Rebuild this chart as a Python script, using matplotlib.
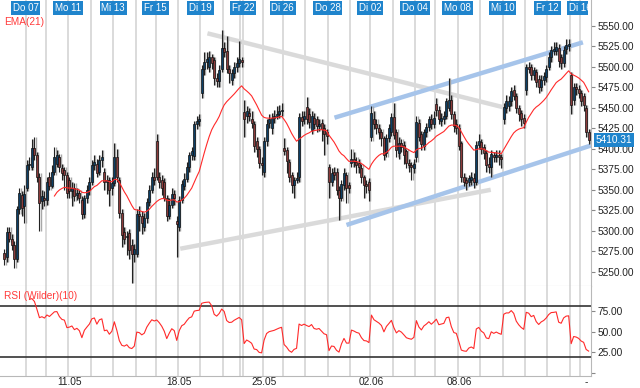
import numpy as np
import pandas as pd
import matplotlib
matplotlib.use("Agg")
import matplotlib.pyplot as plt
import matplotlib.transforms as mtransforms

plt.rcParams['font.family'] = ['Liberation Sans', 'DejaVu Sans']

# ==============================
# Daten (Stundenkerzen, Mai/Juni)
# ==============================
day_names = ["Mi 06", "Do 07", "Fr 08", "Mo 11", "Di 12", "Mi 13", "Do 14", "Fr 15",
             "Mo 18", "Di 19", "Mi 20", "Do 21", "Fr 22", "Mo 25", "Di 26", "Mi 27",
             "Do 28", "Fr 29", "Di 02", "Mi 03", "Do 04", "Fr 05", "Mo 08", "Di 09",
             "Mi 10", "Do 11", "Fr 12", "Mo 15", "Di 16"]
day_bars = [9, 8, 9, 9, 9, 9, 8, 9, 9, 9, 7, 1, 8, 8, 9, 9, 9, 8, 9, 9, 8, 9, 9, 9, 9, 9, 9, 4, 4]

top_labels = ["Do 07", "Mo 11", "Mi 13", "Fr 15", "Di 19", "Fr 22", "Di 26", "Do 28",
              "Di 02", "Do 04", "Mo 08", "Mi 10", "Fr 12", "Di 16"]
bottom_days = ["Mo 11", "Mo 18", "Mo 25", "Di 02", "Mo 08"]
bottom_labels = ["11.05", "18.05", "25.05", "02.06", "08.06"]

opens = [
    5273, 5268, 5299, 5290, 5282, 5265, 5326, 5344, 5330,
    5352, 5380, 5378, 5401, 5392, 5366, 5336, 5340,
    5337, 5365, 5355, 5372, 5382, 5390, 5376, 5374, 5368,
    5362, 5348, 5352, 5344, 5346, 5338, 5320, 5340, 5350,
    5360, 5380, 5382, 5372, 5386, 5372, 5360, 5362, 5352,
    5358, 5390, 5362, 5322, 5298, 5292, 5297, 5282, 5272,
    5272, 5320, 5318, 5305, 5315, 5335, 5350, 5365,
    5409, 5366, 5362, 5360, 5340, 5318, 5332, 5345, 5312,
    5305, 5338, 5355, 5363, 5378, 5392, 5391, 5430, 5434,
    5468, 5497, 5506, 5500, 5512, 5508, 5487, 5483, 5497,
    5523, 5520, 5497, 5484, 5493, 5500, 5505,
    5508,
    5445, 5440, 5444, 5436, 5430, 5410, 5400, 5383,
    5372, 5410, 5432, 5425, 5438, 5440, 5443, 5446,
    5401, 5398, 5384, 5368, 5356, 5362, 5366, 5439, 5436,
    5451, 5443, 5423, 5438, 5436, 5428, 5432, 5426, 5420,
    5378, 5360, 5372, 5372, 5350, 5340, 5356, 5368, 5356,
    5383, 5387, 5384, 5383, 5377, 5365, 5357, 5360,
    5415, 5437, 5430, 5425, 5420, 5413, 5395, 5413, 5421,
    5439, 5421, 5395, 5407, 5405, 5397, 5383, 5380, 5376,
    5390, 5431, 5418, 5403, 5420, 5427, 5436, 5430,
    5455, 5448, 5434, 5436, 5440, 5450, 5460, 5442, 5430,
    5426, 5407, 5365, 5362, 5360, 5362, 5364, 5360, 5405,
    5408, 5402, 5395, 5382, 5378, 5392, 5390, 5393, 5390,
    5436, 5450, 5452, 5458, 5472, 5464, 5450, 5444, 5438,
    5472, 5500, 5500, 5490, 5494, 5485, 5476, 5484, 5488,
    5500, 5512, 5520, 5520, 5523, 5512, 5505, 5522, 5525,
    5490, 5460, 5476, 5473,
    5468, 5465, 5450, 5420,
]
highs = [
    5278, 5305, 5304, 5296, 5288, 5330, 5352, 5348, 5356,
    5386, 5390, 5412, 5414, 5396, 5370, 5350, 5348,
    5366, 5372, 5380, 5402, 5398, 5394, 5382, 5378, 5372,
    5366, 5360, 5358, 5352, 5350, 5342, 5344, 5356, 5366,
    5386, 5392, 5388, 5392, 5398, 5376, 5368, 5366, 5366,
    5407, 5400, 5366, 5326, 5304, 5300, 5302, 5290, 5284,
    5326, 5330, 5324, 5322, 5340, 5356, 5372, 5376,
    5418, 5372, 5368, 5364, 5344, 5340, 5352, 5350, 5318,
    5342, 5362, 5370, 5384, 5396, 5402, 5434, 5440, 5442,
    5502, 5518, 5518, 5520, 5516, 5512, 5492, 5502, 5545,
    5530, 5538, 5502, 5498, 5506, 5512, 5532,
    5512,
    5460, 5452, 5450, 5446, 5434, 5414, 5404, 5390,
    5414, 5436, 5442, 5444, 5448, 5452, 5454, 5456,
    5413, 5402, 5388, 5372, 5366, 5372, 5444, 5446, 5446,
    5463, 5450, 5446, 5444, 5440, 5436, 5436, 5430, 5424,
    5382, 5376, 5378, 5376, 5354, 5362, 5376, 5372, 5360,
    5400, 5396, 5390, 5388, 5382, 5368, 5362, 5364,
    5452, 5446, 5436, 5430, 5424, 5416, 5418, 5430, 5444,
    5456, 5424, 5414, 5412, 5410, 5400, 5388, 5384, 5388,
    5440, 5436, 5422, 5424, 5432, 5440, 5442, 5446,
    5462, 5452, 5444, 5446, 5462, 5487, 5466, 5446, 5436,
    5430, 5410, 5370, 5366, 5368, 5372, 5370, 5410, 5418,
    5412, 5406, 5398, 5390, 5398, 5396, 5398, 5398, 5394,
    5456, 5466, 5464, 5476, 5478, 5468, 5454, 5448, 5442,
    5504, 5506, 5504, 5500, 5498, 5490, 5490, 5494, 5502,
    5518, 5526, 5530, 5530, 5528, 5516, 5526, 5534, 5534,
    5494, 5480, 5480, 5478,
    5472, 5468, 5454, 5424,
]
lows = [
    5258, 5262, 5286, 5276, 5255, 5262, 5320, 5318, 5310,
    5348, 5374, 5374, 5386, 5360, 5300, 5326, 5330,
    5332, 5350, 5352, 5368, 5378, 5372, 5362, 5350, 5340,
    5340, 5330, 5336, 5338, 5334, 5314, 5316, 5334, 5344,
    5356, 5374, 5366, 5368, 5378, 5350, 5345, 5330, 5344,
    5354, 5360, 5316, 5280, 5284, 5270, 5266, 5236, 5262,
    5268, 5300, 5296, 5300, 5310, 5330, 5346, 5356,
    5362, 5352, 5344, 5336, 5312, 5314, 5328, 5332, 5268,
    5300, 5334, 5350, 5360, 5372, 5386, 5386, 5424, 5428,
    5462, 5490, 5498, 5494, 5498, 5478, 5476, 5476, 5494,
    5512, 5492, 5480, 5478, 5486, 5494, 5500,
    5500,
    5414, 5432, 5434, 5426, 5396, 5390, 5376, 5368,
    5366, 5404, 5426, 5418, 5432, 5436, 5438, 5440,
    5392, 5370, 5360, 5346, 5340, 5358, 5360, 5428, 5430,
    5430, 5426, 5418, 5424, 5420, 5422, 5410, 5393, 5406,
    5340, 5354, 5362, 5344, 5313, 5336, 5350, 5334, 5346,
    5378, 5378, 5370, 5370, 5358, 5340, 5346, 5336,
    5410, 5424, 5418, 5412, 5404, 5386, 5390, 5408, 5416,
    5412, 5390, 5388, 5396, 5382, 5376, 5372, 5362, 5370,
    5384, 5410, 5398, 5398, 5414, 5422, 5424, 5426,
    5440, 5430, 5428, 5430, 5436, 5446, 5436, 5420, 5418,
    5398, 5360, 5354, 5350, 5354, 5356, 5352, 5356, 5400,
    5394, 5388, 5372, 5370, 5366, 5384, 5384, 5380, 5377,
    5430, 5444, 5446, 5452, 5460, 5444, 5434, 5428, 5426,
    5466, 5492, 5484, 5484, 5476, 5468, 5470, 5478, 5482,
    5496, 5506, 5514, 5514, 5500, 5498, 5500, 5516, 5520,
    5442, 5454, 5466, 5462,
    5452, 5446, 5414, 5406,
]
closes = [
    5265, 5299, 5290, 5282, 5265, 5326, 5346, 5328, 5345,
    5380, 5382, 5401, 5392, 5366, 5334, 5342, 5337,
    5360, 5355, 5372, 5390, 5392, 5378, 5370, 5368, 5346,
    5348, 5352, 5342, 5346, 5340, 5320, 5340, 5350, 5360,
    5380, 5384, 5370, 5386, 5390, 5360, 5362, 5350, 5358,
    5390, 5365, 5322, 5295, 5290, 5294, 5277, 5272, 5278,
    5320, 5318, 5310, 5315, 5335, 5350, 5365, 5362,
    5366, 5360, 5352, 5340, 5318, 5332, 5345, 5340, 5308,
    5338, 5357, 5363, 5378, 5392, 5397, 5430, 5434, 5436,
    5497, 5506, 5510, 5512, 5505, 5487, 5483, 5496, 5523,
    5518, 5497, 5492, 5493, 5500, 5505, 5510,
    5506,
    5436, 5446, 5440, 5432, 5403, 5400, 5383, 5380,
    5410, 5430, 5436, 5438, 5440, 5443, 5446, 5448,
    5397, 5385, 5366, 5356, 5362, 5364, 5439, 5434, 5440,
    5436, 5433, 5440, 5430, 5428, 5430, 5424, 5418, 5416,
    5360, 5370, 5368, 5350, 5340, 5357, 5370, 5352, 5352,
    5387, 5384, 5380, 5378, 5365, 5356, 5355, 5350,
    5444, 5430, 5425, 5420, 5413, 5393, 5413, 5425, 5439,
    5417, 5399, 5407, 5402, 5393, 5383, 5380, 5378, 5382,
    5433, 5415, 5406, 5420, 5427, 5436, 5430, 5438,
    5448, 5436, 5438, 5440, 5458, 5460, 5442, 5428, 5426,
    5403, 5365, 5360, 5358, 5364, 5366, 5360, 5405, 5410,
    5400, 5395, 5380, 5378, 5394, 5390, 5393, 5390, 5388,
    5451, 5458, 5458, 5470, 5465, 5450, 5442, 5436, 5432,
    5500, 5498, 5490, 5496, 5482, 5475, 5484, 5489, 5498,
    5512, 5521, 5522, 5524, 5507, 5505, 5521, 5527, 5528,
    5454, 5475, 5473, 5468,
    5458, 5453, 5420, 5410.31,
]

# Trendlinien: (Kerze Start, Kurs Start, Kerze Ende, Kurs Ende)
grey_lines = [(81.3, 5541, 200.8, 5450), (70.4, 5278, 194.8, 5350)]
blue_lines = [(132.2, 5438, 231.7, 5530), (137.0, 5307, 234.9, 5404)]

# ==============================
# Indikatoren
# ==============================
df = pd.DataFrame({'o': opens, 'h': highs, 'l': lows, 'c': closes})
n = len(df)
x = np.arange(n)

ema = df['c'].ewm(span=21, adjust=False).mean()
ema[:20] = np.nan

delta = df['c'].diff()
gain = delta.clip(lower=0).ewm(alpha=1 / 10, adjust=False).mean()
loss = (-delta.clip(upper=0)).ewm(alpha=1 / 10, adjust=False).mean()
rsi = 100 - 100 / (1 + gain / loss)
rsi[:10] = np.nan

day_start = np.concatenate([[0], np.cumsum(day_bars)[:-1]])
day_pos = dict(zip(day_names, day_start - 0.5))

# ==============================
# Figur
# ==============================
fig = plt.figure(figsize=(6.4, 3.88), dpi=100)
ax = fig.add_axes([0, 102 / 388, 591 / 640, 286 / 388])
ax2 = fig.add_axes([0, 12 / 388, 591 / 640, 90 / 388], sharex=ax)

spine_col = '#b8b8b8'
grid_col = '#d4d4d4'
up_col = '#0d3f66'
down_col = '#8c3b3b'
blue_box = '#1f84cc'

for a in (ax, ax2):
    for s in ('left', 'top'):
        a.spines[s].set_visible(False)
    for s in ('right', 'bottom'):
        a.spines[s].set_color(spine_col)
    a.yaxis.tick_right()
    a.tick_params(axis='y', length=3, color='#888888', labelsize=7.3, pad=1.5,
                  labelcolor='#222222')
    a.tick_params(axis='x', length=0, labelbottom=False)
    for name in day_names[1:]:
        a.axvline(day_pos[name], color=grid_col, lw=1.2, zorder=0)

ax.set_xlim(-1.8, n - 0.05)
ax.set_ylim(5232.5, 5581.7)
ax.set_yticks(np.arange(5250, 5551, 25))
ax.yaxis.set_major_formatter(matplotlib.ticker.FormatStrFormatter('%.2f'))

# Trendlinien
for x0, y0, x1, y1 in grey_lines:
    ax.plot([x0, x1], [y0, y1], color='#dadada', lw=3.2, solid_capstyle='butt', zorder=1)
for x0, y0, x1, y1 in blue_lines:
    ax.plot([x0, x1], [y0, y1], color='#a6c4ea', lw=3.2, solid_capstyle='butt', zorder=1)

# Kerzen
o = df['o'].values
c = df['c'].values
up = c >= o
body_lo = np.minimum(o, c)
body_h = np.abs(c - o)
colors = np.where(up, up_col, down_col)

ax.vlines(x + 0.45, df['l'], df['h'], color='#a8a8a8', lw=1.0, zorder=2)
ax.bar(x + 0.45, body_h, bottom=body_lo, width=0.75, color='#a8a8a8', lw=0, zorder=2)
ax.vlines(x, df['l'], df['h'], color='#222222', lw=0.8, zorder=3)
ax.bar(x, body_h, bottom=body_lo, width=0.8, color=colors, edgecolor='#111111',
       lw=0.5, zorder=4)

ax.plot(x, ema, color='#ff2a2a', lw=0.8, zorder=5)

ax.text(0.007, 1 - 22 / 286, 'EMA(21)', transform=ax.transAxes, color='#ff3b3b',
        fontsize=7.3, va='center', ha='left')

# Datum-Kästchen oben (letztes wird kurz vor dem Achsenrand abgeschnitten)
trans_top = mtransforms.blended_transform_factory(ax.transData, ax.transAxes)
label_clip = mtransforms.TransformedBbox(mtransforms.Bbox.from_extents(0, 0, 0.995, 1),
                                         ax.transAxes)
for name in top_labels:
    t = ax.text(day_pos[name], 1 - 8 / 286, name, transform=trans_top, color='white',
                fontsize=7, ha='center', va='center', zorder=6,
                bbox=dict(boxstyle='square,pad=0.18', fc=blue_box, ec='none'))
    t.set_clip_on(True)
    t.set_clip_box(label_clip)

# letzter Kurs
trans_last = mtransforms.blended_transform_factory(ax.transAxes, ax.transData)
ax.text(1.008, closes[-1], '%.2f' % closes[-1], transform=trans_last, color='white',
        fontsize=7.3, ha='left', va='center', zorder=7, clip_on=False,
        bbox=dict(boxstyle='square,pad=0.2', fc=blue_box, ec='none'))

# ==============================
# RSI
# ==============================
ax2.set_ylim(-3.2, 104.4)
ax2.set_yticks([0, 25, 50, 75])
ax2.set_yticklabels(['', '25.00', '50.00', '75.00'])
ax2.axhline(80, color='#333333', lw=1.2, zorder=2)
ax2.axhline(20, color='#333333', lw=1.2, zorder=2)
ax2.plot(x, rsi, color='#ff2a2a', lw=0.8, zorder=3)
ax2.text(0.007, 1 - 10 / 90, 'RSI (Wilder)(10)', transform=ax2.transAxes,
         color='#ff3b3b', fontsize=7.3, va='center', ha='left')

trans_bot = mtransforms.blended_transform_factory(ax2.transData, ax2.transAxes)
for name, lab in zip(bottom_days, bottom_labels):
    ax2.text(day_pos[name] + 0.5, -6 / 90, lab, transform=trans_bot, fontsize=7.3,
             ha='center', va='center', color='#222222', clip_on=False)
ax2.text(n - 2, -6 / 90, '-', transform=trans_bot, fontsize=7.3, ha='center',
         va='center', color='#222222', clip_on=False)

fig.savefig('out.png', dpi=100)
